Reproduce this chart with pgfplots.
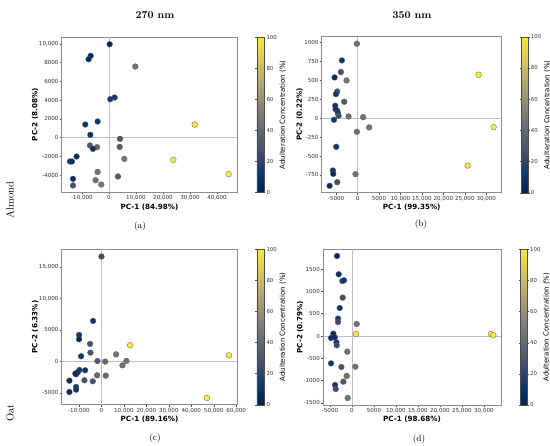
\documentclass[border=0pt]{standalone}
\usepackage{fontspec}
\usepackage{pgfplots}
\pgfplotsset{compat=1.18}
\newfontfamily\dejavu{DejaVu Sans}

\tikzset{zl/.style={black!25, line width=0.7bp}}
\pgfplotsset{
  colormap={cividis}{rgb255(0pt)=(0,34,78) rgb255(12pt)=(12,54,112) rgb255(25pt)=(65,77,107) rgb255(50pt)=(124,123,120) rgb255(75pt)=(188,175,111) rgb255(100pt)=(254,232,56)},
  pca/.style={
    scale only axis,
    axis line style={draw=black!45, line width=0.6bp},
    tick align=outside,
    tick pos=left,
    major tick length=2bp,
    every tick/.style={black!70, line width=0.4bp},
    tick label style={font=\dejavu\fontsize{5.6}{6}\selectfont, text=black!80, inner sep=1bp},
    label style={font=\dejavu\bfseries\fontsize{7.2}{8}\selectfont},
    /pgf/number format/1000 sep={,},
    /pgf/number format/min exponent for 1000 sep=4,
    /pgf/number format/assume math mode=true,
    scaled ticks=false,
    point meta min=0, point meta max=100,
    colormap name=cividis,
    colorbar,
    colorbar style={
      scale only axis,
      width=7bp,
      at={(parent axis.north east)}, anchor=north west, xshift=11bp,
      ytick={0,20,40,60,80,100},
      yticklabel pos=right,
      major tick length=1.5bp,
      tick align=outside,
      every tick/.style={black!70, line width=0.4bp},
      axis line style={draw=black!70, line width=0.4bp},
      /pgf/number format/assume math mode=true,
      yticklabel style={font=\dejavu\fontsize{5.4}{6}\selectfont, text=black!80, inner sep=1bp},
      ylabel={Adulteration Concentration (\%)},
      ylabel style={font=\dejavu\fontsize{7}{8}\selectfont, at={(axis description cs:3.7,0.5)}, anchor=center},
    },
  },
  pts/.style={scatter, only marks, mark=*, mark size=2.9bp, point meta=explicit,
    scatter/use mapped color={draw=black!65, fill=mapped color},
    mark options={line width=0.3bp}},
}

\begin{document}
\begin{tikzpicture}
\path[use as bounding box] (0,0) rectangle (550bp,-446bp);

% (a) Almond 270 nm
\begin{axis}[pca, at={(61.7bp,-192.3bp)}, anchor=south west,
  width=175.6bp, height=155bp,
  xmin=-17500, xmax=47500, ymin=-5850, ymax=10700,
  xtick={-10000,0,10000,20000,30000,40000},
  ytick={-4000,-2000,0,2000,4000,6000,8000,10000},
  xlabel={PC-1 (84.98\%)}, ylabel={PC-2 (8.08\%)},
  xlabel style={at={(axis description cs:0.5,-0.095)}, anchor=center},
  ylabel style={at={(axis description cs:-0.152,0.5)}, anchor=center},
]
\draw[zl] (axis cs:0,-5850) -- (axis cs:0,10700);
\draw[zl] (axis cs:-17500,0) -- (axis cs:47500,0);
\addplot[pts] table[meta=c] {
x y c
250 9960 6
-6790 8720 6
-7530 8360 6
9750 7580 45
490 4090 15
2100 4270 15
-4200 1710 12
-8770 1390 12
-6910 285 8
4070 -140 30
-7040 -850 30
-4440 -1030 38
-5930 -1210 8
3950 -1000 32
-11980 -2030 8
-14440 -2560 8
-13700 -2560 8
5680 -2280 48
-13330 -4410 8
-13330 -5120 28
-4200 -3670 45
-4940 -4560 45
-2840 -5020 48
3330 -4160 32
31730 1390 100
23830 -2380 100
44320 -3910 100
};
\end{axis}

% (b) Almond 350 nm
\begin{axis}[pca, at={(321.7bp,-192.7bp)}, anchor=south west,
  width=180bp, height=156bp,
  xmin=-8350, xmax=33600, ymin=-985, ymax=1075,
  xtick={-5000,0,5000,10000,15000,20000,25000,30000},
  ytick={-750,-500,-250,0,250,500,750,1000},
  xlabel={PC-1 (99.35\%)}, ylabel={PC-2 (0.22\%)},
  xlabel style={at={(axis description cs:0.5,-0.092)}, anchor=center},
  ylabel style={at={(axis description cs:-0.123,0.5)}, anchor=center},
]
\draw[zl] (axis cs:0,-985) -- (axis cs:0,1075);
\draw[zl] (axis cs:-8350,0) -- (axis cs:33600,0);
\addplot[pts] table[meta=c] {
x y c
-155 982 45
-3640 762 12
-3880 608 25
-5350 537 6
-2560 498 45
-4730 352 25
-5040 317 12
-3100 216 30
-5190 163 12
-5120 119 6
-4730 97 6
-4570 66 12
-4420 31 25
-2090 22 45
1320 13 45
-5500 -22 12
2710 -123 45
-155 -181 45
-4960 -379 12
-5740 -692 12
-5660 -736 6
-465 -740 45
-4730 -846 28
-6510 -894 6
28220 573 100
31710 -119 100
25660 -626 100
};
\end{axis}

% (c) Oat 270 nm
\begin{axis}[pca, at={(61.7bp,-404.7bp)}, anchor=south west,
  width=175.6bp, height=155.4bp,
  xmin=-17700, xmax=60500, ymin=-6900, ymax=17800,
  xtick={-10000,0,10000,20000,30000,40000,50000,60000},
  ytick={-5000,0,5000,10000,15000},
  xlabel={PC-1 (89.16\%)}, ylabel={PC-2 (6.33\%)},
  xlabel style={at={(axis description cs:0.5,-0.092)}, anchor=center},
  ylabel style={at={(axis description cs:-0.152,0.5)}, anchor=center},
]
\draw[zl] (axis cs:0,-6900) -- (axis cs:0,17800);
\draw[zl] (axis cs:-17700,0) -- (axis cs:60500,0);
\addplot[pts] table[meta=c] {
x y c
0 16660 25
-3715 6420 12
-9955 4190 12
-9955 3500 6
-5050 2760 28
-4900 1380 28
-9065 800 12
-1780 50 30
1630 -50 40
6540 1110 45
11140 50 45
9360 -640 45
12780 2550 100
56760 950 100
46950 -5840 100
-7280 -1430 12
-9800 -1380 12
-10550 -1750 6
-11290 -2070 6
-11600 -1950 6
-1930 -2230 40
1930 -2280 40
-7580 -3020 28
-3860 -3180 28
-14260 -3080 6
-11290 -4080 12
-11290 -4510 12
-14260 -4880 6
};
\end{axis}

% (d) Oat 350 nm
\begin{axis}[pca, at={(323bp,-405bp)}, anchor=south west,
  width=178bp, height=155.7bp,
  xmin=-6600, xmax=33900, ymin=-1547, ymax=1943,
  xtick={-5000,0,5000,10000,15000,20000,25000,30000},
  ytick={-1500,-1000,-500,0,500,1000,1500},
  xlabel={PC-1 (98.68\%)}, ylabel={PC-2 (0.79\%)},
  xlabel style={at={(axis description cs:0.5,-0.09)}, anchor=center},
  ylabel style={at={(axis description cs:-0.129,0.5)}, anchor=center},
]
\draw[zl] (axis cs:0,-1547) -- (axis cs:0,1943);
\draw[zl] (axis cs:-6600,0) -- (axis cs:33900,0);
\addplot[pts] table[meta=c] {
x y c
-3400 1794 6
-3030 1383 12
-2190 1233 12
-1815 1248 12
-2120 860 25
-2800 628 12
-3180 389 12
-3180 314 25
1060 269 45
910 45 100
-4240 52 6
-4770 -45 6
-3930 -30 6
-3555 -142 12
-3480 -209 25
-1060 -351 45
-4770 -613 12
-2420 -695 28
756 -688 45
-1210 -897 45
-1970 -1024 30
-3860 -1099 12
-3710 -1188 25
-983 -1390 45
31630 45 100
32150 15 100
};
\end{axis}

\node[font=\bfseries\fontsize{10.5}{12}\selectfont] at (155bp,-15bp) {270 nm};
\node[font=\bfseries\fontsize{10.5}{12}\selectfont] at (412bp,-15bp) {350 nm};
\node[rotate=90, font=\fontsize{10.5}{12}\selectfont] at (10bp,-200bp) {Almond};
\node[rotate=90, font=\fontsize{10.5}{12}\selectfont] at (10bp,-413bp) {Oat};
\node[font=\fontsize{9}{10}\selectfont] at (140bp,-226bp) {(a)};
\node[font=\fontsize{9}{10}\selectfont] at (421bp,-224bp) {(b)};
\node[font=\fontsize{9}{10}\selectfont] at (155bp,-438bp) {(c)};
\node[font=\fontsize{9}{10}\selectfont] at (419bp,-439bp) {(d)};
\end{tikzpicture}
\end{document}
